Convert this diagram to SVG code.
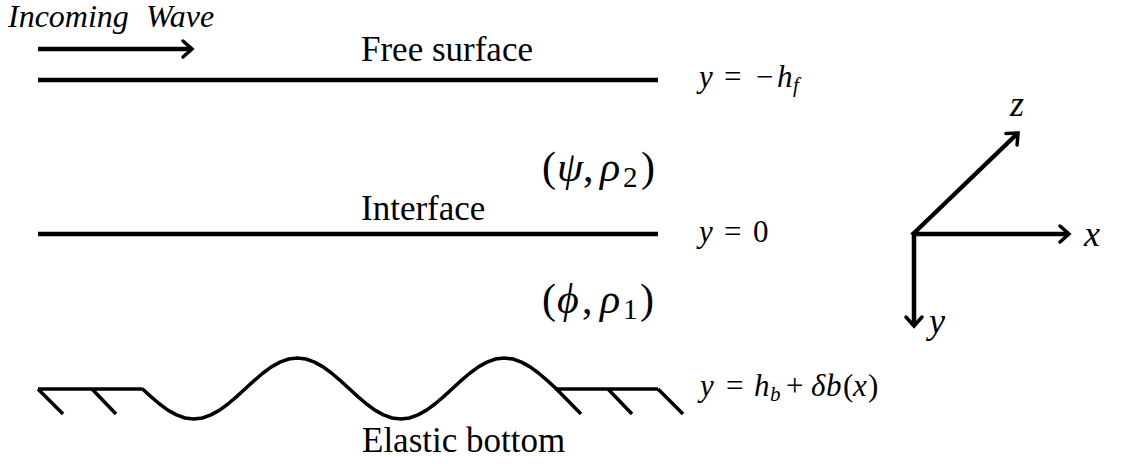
<svg xmlns="http://www.w3.org/2000/svg" width="1121" height="464" viewBox="0 0 1121 464">
<style>
  .thick { stroke: #000; stroke-width: 4.5; fill: none; stroke-linecap: butt; }
  .mid { stroke: #000; stroke-width: 3.5; fill: none; stroke-linecap: butt; stroke-linejoin: round; }
  .it { font-style: italic; }
</style>
<defs>
  <marker id="chev" markerUnits="userSpaceOnUse" markerWidth="14" markerHeight="20" refX="11" refY="9" orient="auto" overflow="visible">
    <path d="M2,1 L11,9 L2,17" fill="none" stroke="#000" stroke-width="3.5" stroke-linecap="round" stroke-linejoin="miter"/>
  </marker>
</defs>
<rect width="1121" height="464" fill="#fff"/>

<g id="incoming-wave-label">
  <text font-family="Liberation Serif" fill="#000" font-style="italic" x="8" y="27" font-size="32">Incoming<tspan x="146">Wave</tspan></text>
</g>

<g id="free-surface">
  <line class="thick" x1="38" y1="80" x2="658" y2="80"/>
  <text font-family="Liberation Serif" fill="#000" x="361" y="61" font-size="35">Free surface</text>
  <text font-family="Liberation Serif" fill="#000" y="87" font-size="31"><tspan class="it" x="699">y</tspan><tspan x="724">=</tspan><tspan x="756">&#8722;</tspan><tspan class="it" x="777">h</tspan><tspan class="it" font-size="21" x="793" dy="5">f</tspan></text>
</g>

<g id="upper-fluid">
  <text font-family="Liberation Serif" fill="#000" y="181" font-size="42"><tspan x="542">(</tspan><tspan class="it" x="557">&#968;</tspan><tspan x="583">,</tspan><tspan class="it" x="600">&#961;</tspan><tspan font-size="29" x="623" dy="6">2</tspan><tspan x="641" dy="-6">)</tspan></text>
</g>

<g id="interface">
  <line class="thick" x1="38" y1="234" x2="658" y2="234"/>
  <text font-family="Liberation Serif" fill="#000" x="361" y="220" font-size="35">Interface</text>
  <text font-family="Liberation Serif" fill="#000" y="242" font-size="31"><tspan class="it" x="699">y</tspan><tspan x="724">=</tspan><tspan x="753">0</tspan></text>
</g>

<g id="lower-fluid">
  <text font-family="Liberation Serif" fill="#000" y="313" font-size="42"><tspan x="542">(</tspan><tspan class="it" x="557">&#981;</tspan><tspan x="582">,</tspan><tspan class="it" x="600">&#961;</tspan><tspan font-size="29" x="623" dy="6">1</tspan><tspan x="640" dy="-6">)</tspan></text>
</g>

<g id="elastic-bottom">
  <line class="mid" x1="38" y1="389" x2="142" y2="389"/>
  <line class="mid" x1="38" y1="389" x2="63" y2="414"/>
  <line class="mid" x1="92" y1="389" x2="116" y2="414"/>
  <polyline class="mid" points="142,388.5 150.6,396.4 159.25,403.75 167.9,410.1 176.5,414.9 185.1,418 193.75,419 202.4,418 211,414.9 219.6,410.1 228.25,403.75 236.9,396.4 245.5,388.5 254.1,380.6 262.75,373.25 271.4,366.9 280,362.1 288.6,359 297.25,358 305.9,359 314.5,362.1 323.1,366.9 331.75,373.25 340.4,380.6 349,388.5 357.6,396.4 366.25,403.75 374.9,410.1 383.5,414.9 392.1,418 400.75,419 409.4,418 418,414.9 426.6,410.1 435.25,403.75 443.9,396.4 452.5,388.5 461.1,380.6 469.75,373.25 478.4,366.9 487,362.1 495.6,359 504.25,358 512.9,359 521.5,362.1 530.1,366.9 538.75,373.25 547.4,380.6 556,388.5 581,414"/>
  <line class="mid" x1="555" y1="389" x2="658" y2="389"/>
  <line class="mid" x1="608" y1="389" x2="632" y2="414"/>
  <line class="mid" x1="658" y1="389" x2="683" y2="414"/>
  <text font-family="Liberation Serif" fill="#000" x="362" y="452" font-size="35">Elastic bottom</text>
  <text font-family="Liberation Serif" fill="#000" y="396" font-size="31"><tspan class="it" x="700">y</tspan><tspan x="726">=</tspan><tspan class="it" x="754">h</tspan><tspan class="it" font-size="21" x="770" dy="5">b</tspan><tspan x="786" dy="-5">+</tspan><tspan class="it" x="811">&#948;</tspan><tspan class="it" x="826">b</tspan><tspan x="843">(</tspan><tspan class="it" x="853">x</tspan><tspan x="868">)</tspan></text>
</g>

<g id="axis-labels">
  <text font-family="Liberation Serif" fill="#000" font-style="italic" x="1084" y="246" font-size="36">x</text>
  <text font-family="Liberation Serif" fill="#000" font-style="italic" x="929" y="333" font-size="36">y</text>
  <text font-family="Liberation Serif" fill="#000" font-style="italic" x="1010" y="116" font-size="36">z</text>
</g>

<g id="connectors">
  <line class="thick" x1="38" y1="49" x2="192" y2="49" marker-end="url(#chev)"/>
  <line class="thick" x1="913" y1="234" x2="1069" y2="234" marker-end="url(#chev)"/>
  <line class="thick" x1="914" y1="232" x2="914" y2="326" marker-end="url(#chev)"/>
  <line class="thick" x1="912" y1="235" x2="1018" y2="133" marker-end="url(#chev)"/>
</g>
</svg>
